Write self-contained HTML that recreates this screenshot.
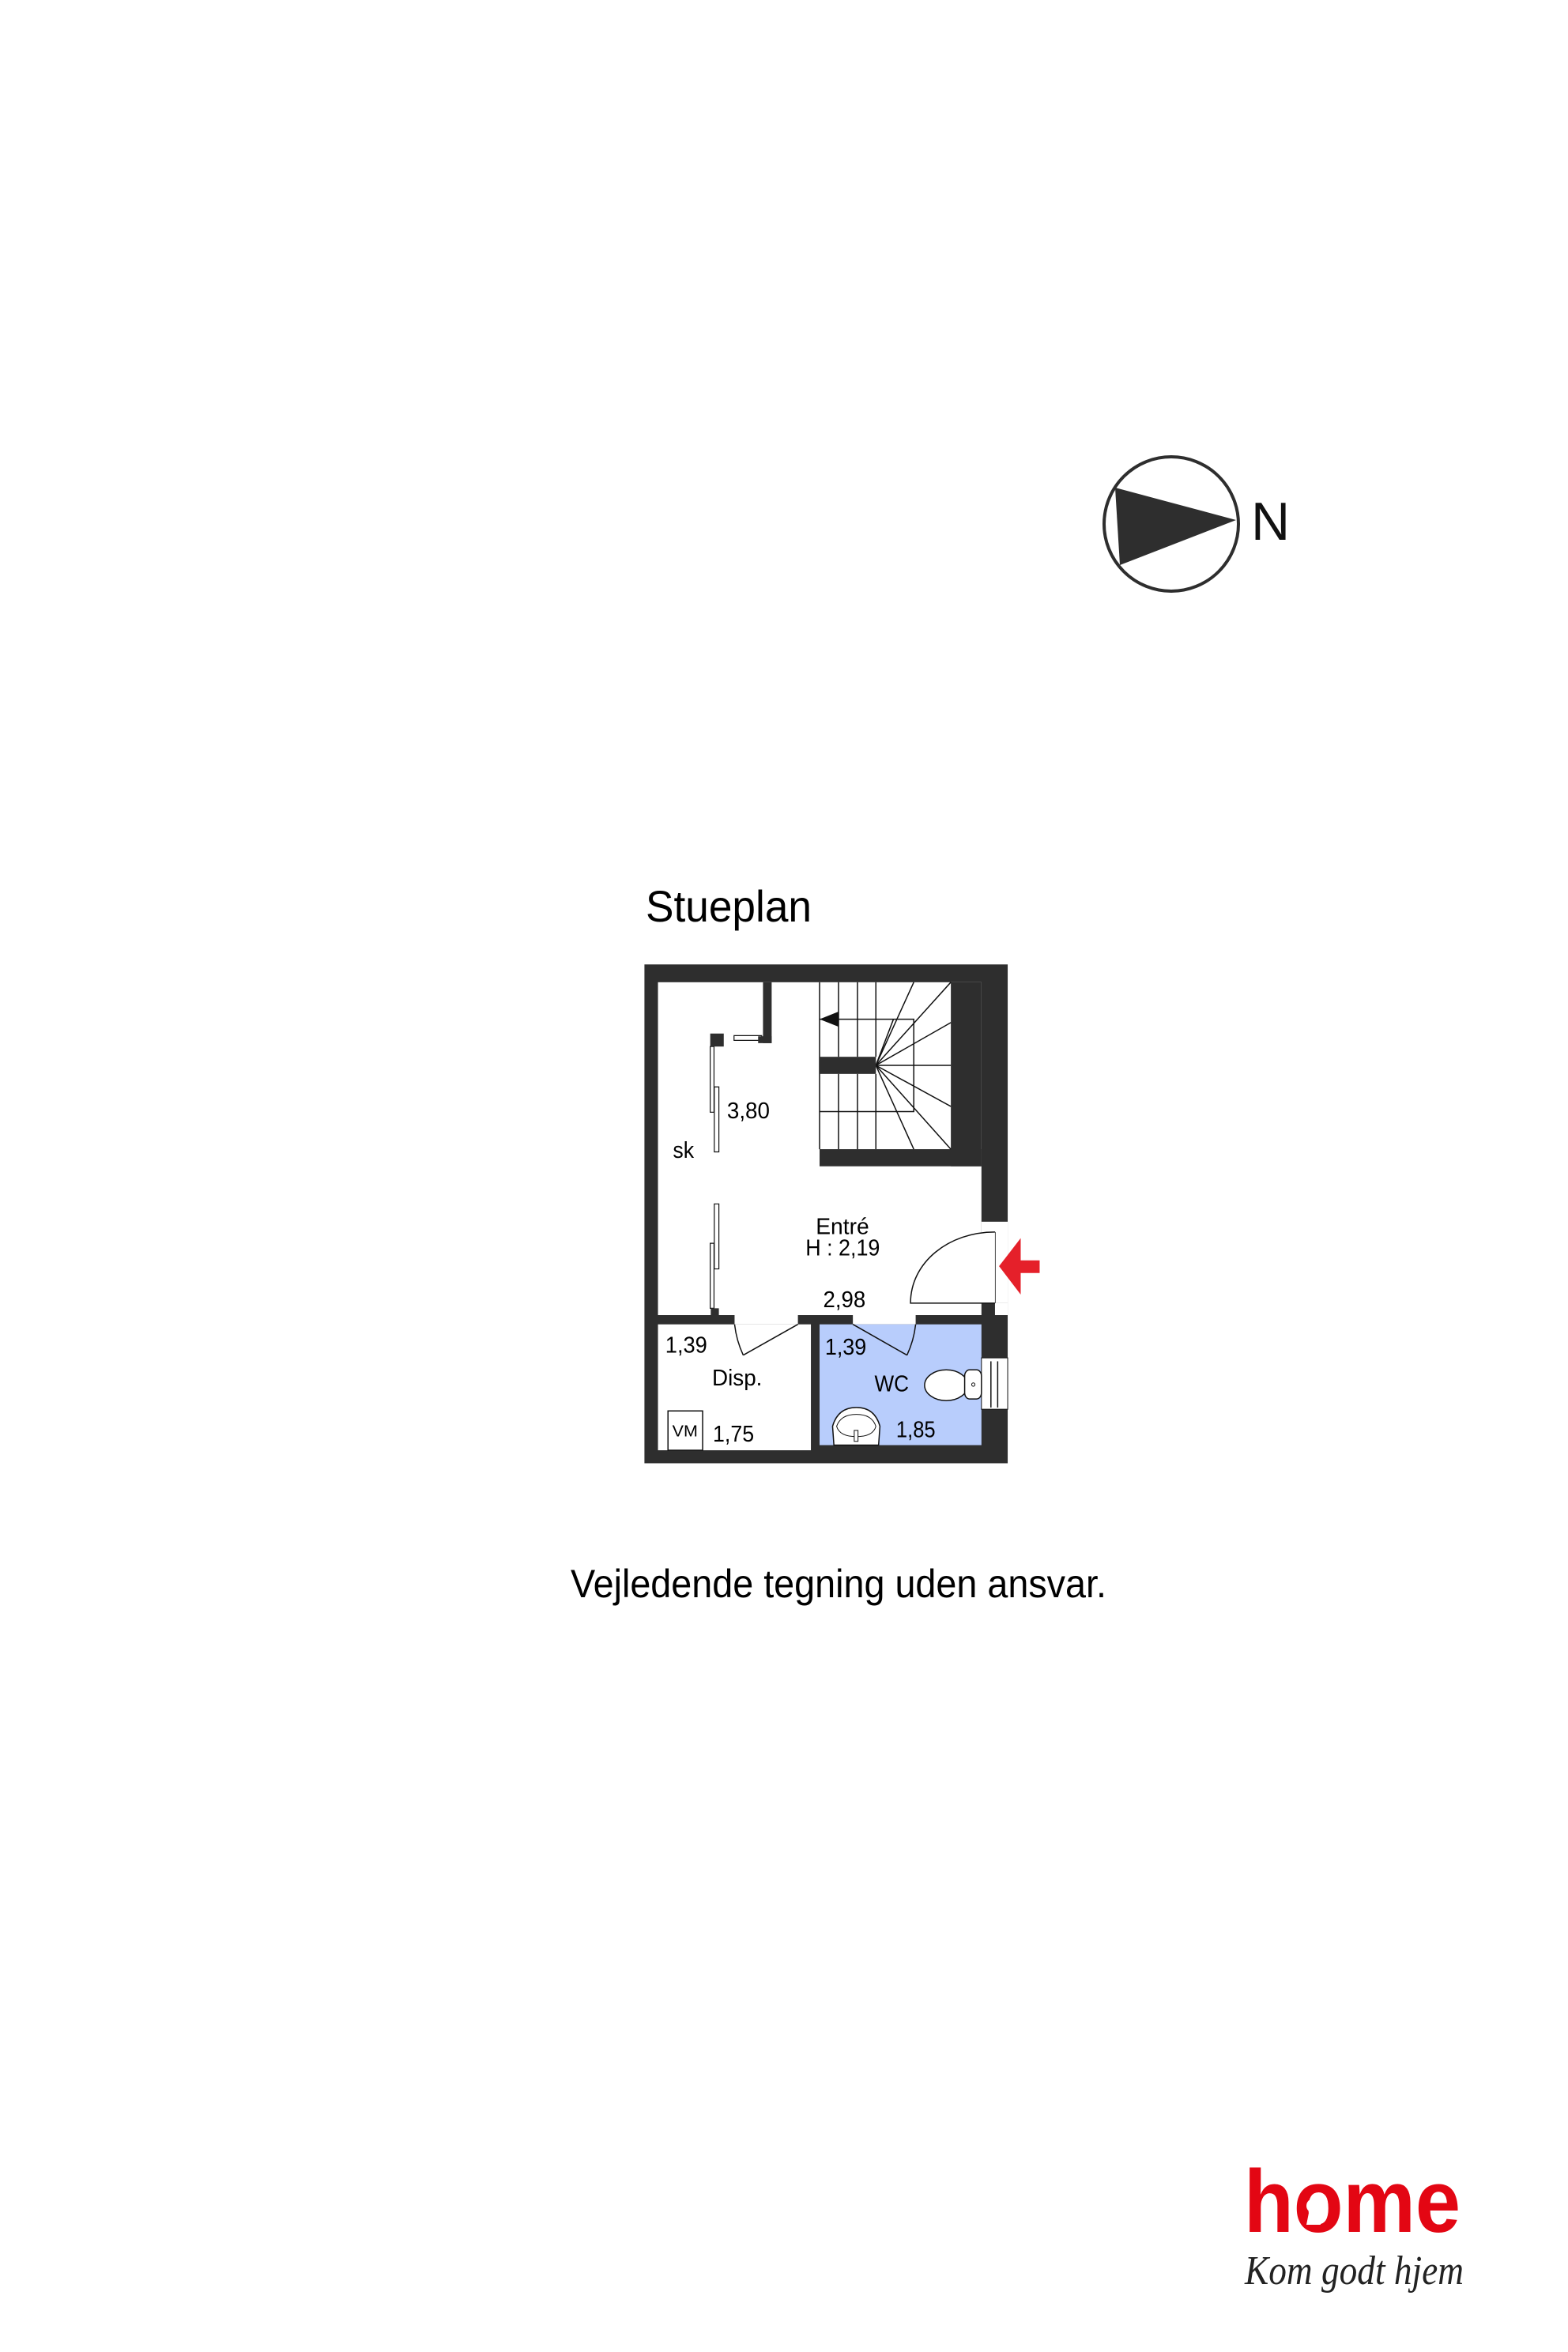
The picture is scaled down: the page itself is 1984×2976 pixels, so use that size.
<!DOCTYPE html>
<html><head><meta charset="utf-8"><style>
html,body{margin:0;padding:0;background:#fff;}
svg{display:block;}
</style></head><body>
<svg width="1984" height="2976" viewBox="0 0 1984 2976" xmlns="http://www.w3.org/2000/svg" font-family="Liberation Sans, sans-serif">
<rect width="1984" height="2976" fill="#fff"/>
<!-- compass -->
<circle cx="1482" cy="663" r="85" fill="none" stroke="#2e2e2e" stroke-width="4"/>
<polygon points="1411,617 1417,715 1564,658" fill="#2e2e2e"/>
<text x="1583" y="683" font-size="68" fill="#111">N</text>
<!-- title -->
<text x="817" y="1166" font-size="56" fill="#000" textLength="210" lengthAdjust="spacingAndGlyphs">Stueplan</text>

<!-- floor plan in zoom coordinates -->
<g transform="translate(800,1190) scale(0.3425,0.4329)">
<rect x="45" y="70" width="1342" height="1458" fill="#2e2e2e"/>
<rect x="95" y="122" width="1195" height="973" fill="#fff"/>
<rect x="692" y="610" width="598" height="50" fill="#2e2e2e"/>
<rect x="1177" y="122" width="113" height="538" fill="#2e2e2e"/>
<rect x="483" y="122" width="32" height="178" fill="#2e2e2e"/>
<!-- entrance opening -->
<rect x="1290" y="822" width="97" height="238" fill="#fff"/>
<rect x="1340" y="1060" width="47" height="35" fill="#fff"/>
<!-- middle wall openings -->
<rect x="378" y="1090" width="234" height="32" fill="#fff"/>
<rect x="815" y="1090" width="232" height="32" fill="#fff"/>
<!-- Disp -->
<rect x="95" y="1122" width="565" height="368" fill="#fff"/>
<!-- WC -->
<rect x="692" y="1122" width="598" height="353" fill="#b8cdfc"/>
<!-- window -->
<rect x="1290" y="1220" width="97" height="150" fill="#fff" stroke="#111" stroke-width="1" vector-effect="non-scaling-stroke"/>
<g stroke="#111" stroke-width="1.5" fill="none">
<line x1="1325" y1="1230" x2="1325" y2="1365" vector-effect="non-scaling-stroke"/>
<line x1="1350" y1="1230" x2="1350" y2="1365" vector-effect="non-scaling-stroke"/>
</g>
<!-- stairs -->
<g stroke="#111" stroke-width="1.5" fill="none">
<line x1="692" y1="122" x2="692" y2="610" vector-effect="non-scaling-stroke"/>
<line x1="762" y1="122" x2="762" y2="340" vector-effect="non-scaling-stroke"/>
<line x1="832" y1="122" x2="832" y2="340" vector-effect="non-scaling-stroke"/>
<line x1="900" y1="122" x2="900" y2="340" vector-effect="non-scaling-stroke"/>
<line x1="762" y1="390" x2="762" y2="610" vector-effect="non-scaling-stroke"/>
<line x1="832" y1="390" x2="832" y2="610" vector-effect="non-scaling-stroke"/>
<line x1="900" y1="390" x2="900" y2="610" vector-effect="non-scaling-stroke"/>
<polyline points="692,230 1040,230 1040,500 692,500" vector-effect="non-scaling-stroke"/>
<line x1="900" y1="365" x2="1040" y2="122" vector-effect="non-scaling-stroke"/>
<line x1="900" y1="365" x2="1177" y2="122" vector-effect="non-scaling-stroke"/>
<line x1="900" y1="365" x2="1177" y2="240" vector-effect="non-scaling-stroke"/>
<line x1="900" y1="365" x2="1177" y2="365" vector-effect="non-scaling-stroke"/>
<line x1="900" y1="365" x2="1177" y2="485" vector-effect="non-scaling-stroke"/>
<line x1="900" y1="365" x2="1177" y2="610" vector-effect="non-scaling-stroke"/>
<line x1="900" y1="365" x2="1040" y2="610" vector-effect="non-scaling-stroke"/>
<line x1="900" y1="365" x2="965" y2="230" vector-effect="non-scaling-stroke"/>
</g>
<rect x="692" y="340" width="208" height="50" fill="#2e2e2e"/>
<polygon points="692,230 762,208 762,252" fill="#111"/>
<!-- wardrobe -->
<g fill="#fff" stroke="#111" stroke-width="1.2">
<rect x="288" y="310" width="14" height="192" vector-effect="non-scaling-stroke"/>
<rect x="303" y="428" width="17" height="190" vector-effect="non-scaling-stroke"/>
<rect x="303" y="770" width="17" height="190" vector-effect="non-scaling-stroke"/>
<rect x="288" y="885" width="14" height="190" vector-effect="non-scaling-stroke"/>
<rect x="376" y="278" width="102" height="14" vector-effect="non-scaling-stroke"/>
</g>
<rect x="288" y="272" width="50" height="38" fill="#2e2e2e"/>
<rect x="465" y="280" width="50" height="20" fill="#2e2e2e"/>
<rect x="290" y="1075" width="30" height="22" fill="#2e2e2e"/>
<!-- doors -->
<g stroke="#111" stroke-width="1.5" fill="none">
<line x1="612" y1="1122" x2="410" y2="1212" vector-effect="non-scaling-stroke"/>
<path d="M410,1212 Q385,1170 378,1122" vector-effect="non-scaling-stroke"/>
<line x1="815" y1="1122" x2="1015" y2="1212" vector-effect="non-scaling-stroke"/>
<path d="M1015,1212 Q1040,1170 1047,1122" vector-effect="non-scaling-stroke"/>
<line x1="1340" y1="852" x2="1340" y2="1060" vector-effect="non-scaling-stroke"/>
<path d="M1340,852 C1170,852 1028,940 1028,1060 L1340,1060" fill="#fff" vector-effect="non-scaling-stroke"/>
</g>
<!-- entrance arrow -->
<polygon points="1355,952 1435,870 1435,935 1505,935 1505,972 1435,972 1435,1035" fill="#e5202a"/>
<!-- toilet -->
<ellipse cx="1160" cy="1300" rx="80" ry="45" fill="#fff" stroke="#111" stroke-width="1.5" vector-effect="non-scaling-stroke"/>
<rect x="1228" y="1255" width="62" height="85" rx="18" fill="#fff" stroke="#111" stroke-width="1.5" vector-effect="non-scaling-stroke"/>
<ellipse cx="1260" cy="1298" rx="6" ry="5" fill="none" stroke="#111" stroke-width="1" vector-effect="non-scaling-stroke"/>
<!-- sink -->
<path d="M745,1475 L740,1420 Q760,1365 828,1365 Q896,1365 915,1420 L910,1475 Z" fill="#fff" stroke="#111" stroke-width="1.5" vector-effect="non-scaling-stroke"/>
<path d="M755,1420 Q770,1385 828,1385 Q886,1385 900,1420 Q890,1450 828,1450 Q766,1450 755,1420 Z" fill="none" stroke="#111" stroke-width="1" vector-effect="non-scaling-stroke"/>
<rect x="820" y="1432" width="14" height="32" fill="#fff" stroke="#111" stroke-width="1" vector-effect="non-scaling-stroke"/>
<!-- VM box -->
<rect x="132" y="1375" width="128" height="115" fill="#fff" stroke="#111" stroke-width="1.5" vector-effect="non-scaling-stroke"/>
<g font-size="66" fill="#000">
<text x="350" y="520" textLength="158" lengthAdjust="spacingAndGlyphs">3,80</text>
<text x="150" y="635" textLength="78" lengthAdjust="spacingAndGlyphs">sk</text>
<text x="678" y="858" textLength="197" lengthAdjust="spacingAndGlyphs">Entré</text>
<text x="640" y="920" textLength="275" lengthAdjust="spacingAndGlyphs">H : 2,19</text>
<text x="705" y="1072" textLength="157" lengthAdjust="spacingAndGlyphs">2,98</text>
<text x="122" y="1205" textLength="155" lengthAdjust="spacingAndGlyphs">1,39</text>
<text x="295" y="1300" textLength="185" lengthAdjust="spacingAndGlyphs">Disp.</text>
<text x="298" y="1465" textLength="152" lengthAdjust="spacingAndGlyphs">1,75</text>
<text x="712" y="1210" textLength="153" lengthAdjust="spacingAndGlyphs">1,39</text>
<text x="895" y="1318" textLength="127" lengthAdjust="spacingAndGlyphs">WC</text>
<text x="975" y="1452" textLength="145" lengthAdjust="spacingAndGlyphs">1,85</text>
<text x="148" y="1450" font-size="48" textLength="94" lengthAdjust="spacingAndGlyphs">VM</text>
</g>
</g>

<!-- footer -->
<text x="722" y="2021" font-size="50" fill="#000" textLength="678" lengthAdjust="spacingAndGlyphs">Vejledende tegning uden ansvar.</text>
<!-- logo -->
<text x="1574" y="2824" font-size="112" font-weight="bold" fill="#e30613" textLength="274" lengthAdjust="spacingAndGlyphs">home</text>
<circle cx="1662" cy="2791" r="9" fill="#fff"/>
<polygon points="1657,2795 1667,2795 1671,2815 1653,2815" fill="#fff"/>
<text x="1575" y="2890" font-size="52" font-style="italic" font-family="Liberation Serif, serif" fill="#222" textLength="277" lengthAdjust="spacingAndGlyphs">Kom godt hjem</text>
</svg>
</body></html>
